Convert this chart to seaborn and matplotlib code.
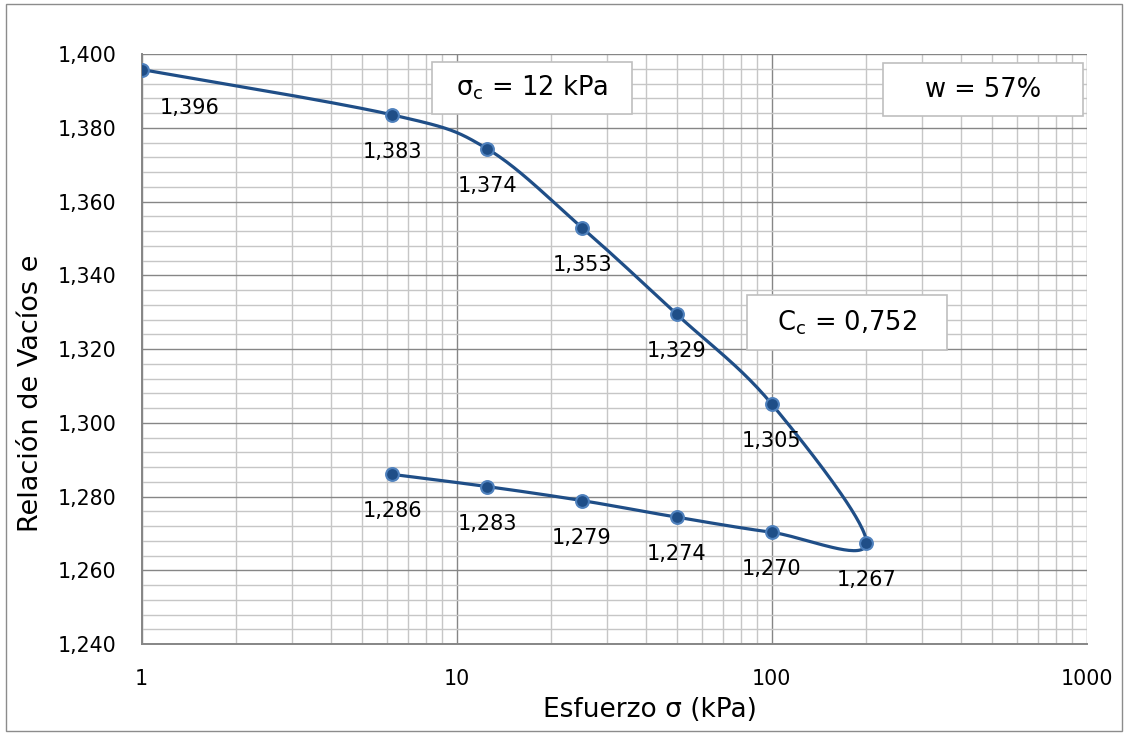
import numpy as np
import matplotlib
matplotlib.use("Agg")
import matplotlib.pyplot as plt
import matplotlib.patches as mpatches
from matplotlib.ticker import FixedLocator, LogLocator, MultipleLocator, FuncFormatter
import seaborn as sns

# ============================================================
# Curva de compresibilidad e - log(sigma)
# ============================================================

# carga y descarga, en el orden del ensayo
esfuerzo = [1, 6.25, 12.5, 25, 50, 100, 200, 100, 50, 25, 12.5, 6.25]
relacion_vacios = [1.3958, 1.3835, 1.3743, 1.3529, 1.3294, 1.3051, 1.2675,
                   1.2703, 1.2744, 1.2789, 1.2827, 1.2860]
etiquetas = ["1,396", "1,383", "1,374", "1,353", "1,329", "1,305", "1,267",
             "1,270", "1,274", "1,279", "1,283", "1,286"]

x_ticks = [1, 10, 100, 1000]
y_ticks = [1.240, 1.260, 1.280, 1.300, 1.320, 1.340, 1.360, 1.380, 1.400]

sigma_c_text = r"σ$_{\rm c}$ = 12 kPa"
w_text = "w = 57%"
cc_text = r"C$_{\rm c}$ = 0,752"

LINE = "#1f4e87"
MARK_EDGE = "#4f81bd"
GRID_MAJOR = "#868686"
GRID_MINOR = "#c6c6c6"


def smooth_curve(xs, ys, x_scale, y_scale, n=40):
    """Excel-like smoothed line (Catmull-Rom Bezier) computed in
    display-proportional space (log x)."""
    u = np.log10(xs) * x_scale
    v = np.asarray(ys) * y_scale
    P = np.column_stack([u, v])
    P_ext = np.vstack([P[0], P, P[-1]])
    out = []
    t = np.linspace(0, 1, n)[:, None]
    for i in range(len(P) - 1):
        p0, p1, p2, p3 = P_ext[i], P_ext[i + 1], P_ext[i + 2], P_ext[i + 3]
        c1 = p1 + (p2 - p0) / 6.0
        c2 = p2 - (p3 - p1) / 6.0
        seg = ((1 - t) ** 3) * p1 + 3 * ((1 - t) ** 2) * t * c1 \
            + 3 * (1 - t) * t ** 2 * c2 + t ** 3 * p2
        out.append(seg if i == 0 else seg[1:])
    out = np.vstack(out)
    return 10 ** (out[:, 0] / x_scale), out[:, 1] / y_scale


sns.set_style("white")
plt.rcParams["font.family"] = ["DejaVu Sans"]
plt.rcParams["mathtext.fontset"] = "dejavusans"
plt.rcParams["text.color"] = "black"
plt.rcParams["axes.labelcolor"] = "black"

fig = plt.figure(figsize=(11.27, 7.34), dpi=100)
ax = fig.add_axes([0.1257, 0.1226, 0.8385, 0.8038])

ax.set_xscale("log")
ax.set_xlim(1, 1000)
ax.set_ylim(1.240, 1.400)

# grid
ax.xaxis.set_major_locator(FixedLocator(x_ticks))
ax.xaxis.set_minor_locator(LogLocator(base=10, subs=np.arange(2, 10)))
ax.yaxis.set_major_locator(FixedLocator(y_ticks))
ax.yaxis.set_minor_locator(MultipleLocator(0.004))
ax.grid(which="minor", color=GRID_MINOR, linewidth=1.0)
ax.grid(which="major", color=GRID_MAJOR, linewidth=1.0)
ax.set_axisbelow(True)

ax.xaxis.set_major_formatter(FuncFormatter(lambda v, p: f"{v:g}"))
ax.xaxis.set_minor_formatter(FuncFormatter(lambda v, p: ""))
ax.yaxis.set_major_formatter(
    FuncFormatter(lambda v, p: f"{v:.3f}".replace(".", ",")))

ax.tick_params(axis="both", which="major", labelsize=14.8, length=6,
               color=GRID_MAJOR, width=1.2, pad=12, labelcolor="black")
ax.tick_params(axis="both", which="minor", length=0)
for side in ["top", "right"]:
    ax.spines[side].set_visible(False)
for side in ["left", "bottom"]:
    ax.spines[side].set_color(GRID_MAJOR)
    ax.spines[side].set_linewidth(1.4)

# smoothed curve
x_scale = 315.0
y_scale = 590.0 / 0.16
xs, ys = smooth_curve(esfuerzo, relacion_vacios, x_scale, y_scale)
ax.plot(xs, ys, color=LINE, linewidth=2.3, zorder=3, solid_capstyle="round")

df_points = {"esfuerzo": esfuerzo, "e": relacion_vacios}
sns.scatterplot(data=df_points, x="esfuerzo", y="e", ax=ax, s=85,
                color=LINE, edgecolor=MARK_EDGE, linewidth=1.5, zorder=4,
                legend=False)

# data labels
for i, (xv, yv, lab) in enumerate(zip(esfuerzo, relacion_vacios, etiquetas)):
    dx, dy = (34.5, -28) if i == 0 else (0, -26.6)
    ax.annotate(lab, (xv, yv), xytext=(dx, dy), textcoords="offset points",
                ha="center", va="center", fontsize=15, color="black",
                zorder=5)

ax.set_xlabel("Esfuerzo σ (kPa)", fontsize=19, va="center")
ax.xaxis.set_label_coords(0.5379, -0.1119)
ax.set_ylabel("Relación de Vacíos e", fontsize=19.5, va="center")
ax.yaxis.set_label_coords(-0.1171, 0.4254)

# cuadros de texto (x0, y0, x1, y1 en fracción de ejes)
cuadros = [
    (sigma_c_text, (0.3072, 0.8983, 0.5188, 0.9864)),
    (w_text, (0.7844, 0.8949, 0.9961, 0.9847)),
    (cc_text, (0.6405, 0.4983, 0.8521, 0.5915)),
]
for texto, (x0, y0, x1, y1) in cuadros:
    ax.add_patch(mpatches.Rectangle((x0, y0), x1 - x0, y1 - y0,
                                    transform=ax.transAxes, facecolor="white",
                                    edgecolor="#bfbfbf", linewidth=1.2,
                                    zorder=6))
    ax.text((x0 + x1) / 2, (y0 + y1) / 2, texto, transform=ax.transAxes,
            ha="center", va="center", fontsize=18.5, zorder=7)

# borde del área del gráfico
fig.patches.append(mpatches.Rectangle((0.0053, 0.004), 0.9902, 0.9906,
                                      transform=fig.transFigure,
                                      fill=False, edgecolor="#8c8c8c",
                                      linewidth=1.0))

fig.savefig("out.png", dpi=100)
